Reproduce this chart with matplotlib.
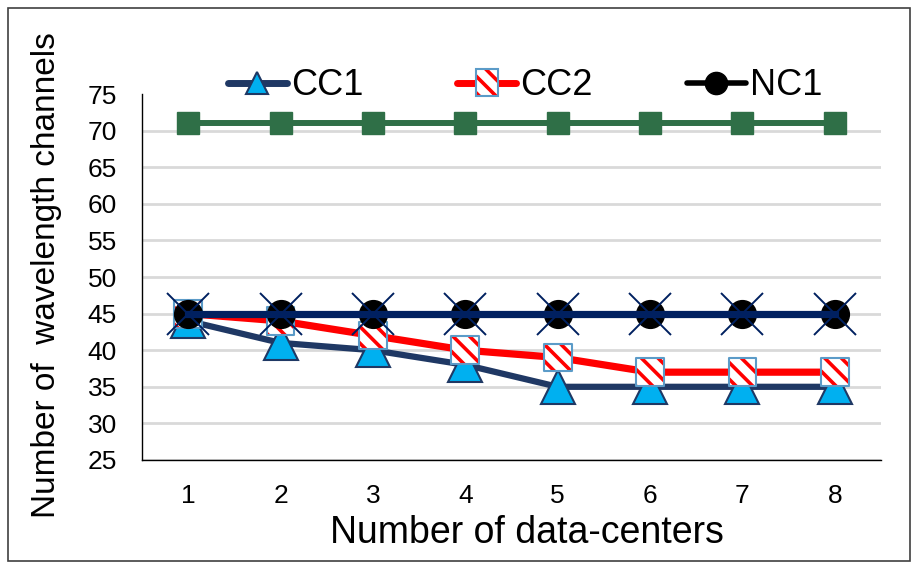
import matplotlib
matplotlib.use("Agg")
import matplotlib.pyplot as plt
from matplotlib.patches import Rectangle
from matplotlib.lines import Line2D
from matplotlib.legend_handler import HandlerBase

plt.rcParams['font.family'] = ['Liberation Sans', 'DejaVu Sans']
plt.rcParams['hatch.linewidth'] = 2.6

categories = ['1', '2', '3', '4', '5', '6', '7', '8']
cc1 = [44, 41, 40, 38, 35, 35, 35, 35]
cc2 = [45, 44, 42, 40, 39, 37, 37, 37]
nc1 = [45, 45, 45, 45, 45, 45, 45, 45]
green_series = [71, 71, 71, 71, 71, 71, 71, 71]
cross_series = [45, 45, 45, 45, 45, 45, 45, 45]
y_ticks = [25, 30, 35, 40, 45, 50, 55, 60, 65, 70, 75]
legend_labels = ['CC1', 'CC2', 'NC1']

x = list(range(1, len(categories) + 1))

navy = '#1f3864'
navy2 = '#002060'
green = '#2f6f47'
red = '#ff0000'
tri_fill = '#00b0f0'
sq_edge = '#5b9bc8'
HATCH = '\\\\'

fig = plt.figure(figsize=(9.18, 5.69), dpi=100)
ax = fig.add_axes([0.1547, 0.1916, 0.805, 0.643])

ax.plot(x, green_series, color=green, lw=4.3, marker='s', ms=16.5,
        mfc=green, mec=green, zorder=3)

l1, = ax.plot(x, cc1, color=navy, lw=4.5, marker='^', ms=24,
              mfc=tri_fill, mec=navy, mew=1.5, zorder=4)

l2, = ax.plot(x, cc2, color=red, lw=5.2, zorder=5)
ax.scatter(x, cc2, s=20**2, marker='s', facecolor='white',
           edgecolor=red, linewidths=0, hatch=HATCH, zorder=6)
ax.scatter(x, cc2, s=20**2, marker='s', facecolor='none',
           edgecolor=sq_edge, linewidths=1.5, zorder=6.5)

l3, = ax.plot(x, nc1, color='black', lw=4, marker='o', ms=20,
              mfc='black', mec='black', zorder=7)

ax.plot(x, cross_series, color=navy2, lw=5.2, marker='x', ms=30,
        mec=navy2, mew=1.4, zorder=8)

ax.set_xlim(0.5, len(categories) + 0.5)
ax.set_ylim(25, 75)
ax.set_xticks(x)
ax.set_xticklabels(categories)
ax.set_yticks(y_ticks)
ax.tick_params(axis='both', length=0, labelsize=19)
ax.tick_params(axis='y', pad=18)
ax.tick_params(axis='x', pad=17)

ax.grid(axis='y', color='#d9d9d9', lw=2, zorder=0)
ax.set_axisbelow(True)
ax.yaxis.get_gridlines()[-1].set_visible(False)

for s in ['top', 'right']:
    ax.spines[s].set_visible(False)
for s in ['left', 'bottom']:
    ax.spines[s].set_color('black')
    ax.spines[s].set_linewidth(1.0)

ax.set_xlabel('Number of data-centers', fontsize=27, va='top')
ax.xaxis.set_label_coords(0.521, -0.150)
ax.set_ylabel('Number of  wavelength channels', fontsize=24)
ax.yaxis.set_label_coords(-0.108, 0.506)


class SeriesHandler(HandlerBase):
    def __init__(self, color, lw, marker=None, ms=0, mfc=None, mec=None,
                 mew=1.0, hatch=None, edge=None):
        super().__init__()
        self.p = dict(color=color, lw=lw, marker=marker, ms=ms, mfc=mfc,
                      mec=mec, mew=mew, hatch=hatch, edge=edge)

    def create_artists(self, legend, orig_handle, xdescent, ydescent,
                       width, height, fontsize, trans):
        p = self.p
        y = height / 2 - ydescent
        line = Line2D([-xdescent, width - xdescent], [y, y], color=p['color'],
                      lw=p['lw'], solid_capstyle='round', transform=trans)
        xc = width / 2 - xdescent
        arts = [line]
        if p['hatch']:
            w, h = 15.5, 19.5
            r1 = Rectangle((xc - w / 2, y - h / 2), w, h, facecolor='white',
                           edgecolor=red, lw=0, hatch=p['hatch'], transform=trans)
            r2 = Rectangle((xc - w / 2, y - h / 2), w, h, facecolor='none',
                           edgecolor=p['edge'], lw=1.5, transform=trans)
            arts += [r1, r2]
        else:
            m = Line2D([xc], [y], marker=p['marker'], ms=p['ms'], mfc=p['mfc'],
                       mec=p['mec'], mew=p['mew'], ls='none', transform=trans)
            arts.append(m)
        return arts


fig.legend([l1, l2, l3], legend_labels,
           handler_map={
               l1: SeriesHandler(navy, 5, '^', 16, tri_fill, navy, 1.5),
               l2: SeriesHandler(red, 5, hatch=HATCH, edge=sq_edge),
               l3: SeriesHandler('black', 4, 'o', 16, 'black', 'black'),
           },
           loc='center', bbox_to_anchor=(0.572, 0.849), ncol=3,
           frameon=False, fontsize=26, handlelength=1.64, handletextpad=0.11,
           columnspacing=2.6)

fig.add_artist(Rectangle((0.009, 0.014), 0.982, 0.972, transform=fig.transFigure,
                         fill=False, ec='#404040', lw=1.2))

fig.savefig('out.png', dpi=100)
